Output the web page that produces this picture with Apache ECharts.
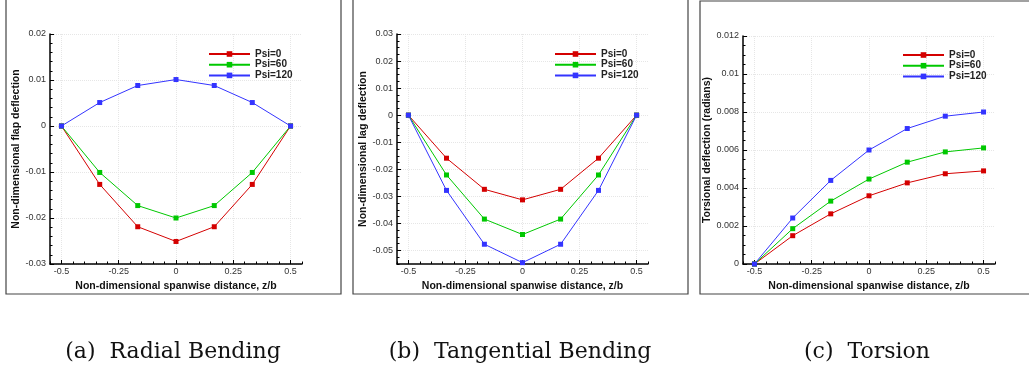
<!DOCTYPE html>
<html><head><meta charset="utf-8">
<script src="https://cdn.jsdelivr.net/npm/echarts@6/dist/echarts.min.js"></script>
<style>html,body{margin:0;padding:0;background:#fff}#c{width:1029px;height:373px}</style>
</head><body><div id="c"></div>
<script>
// ---- data ----
const spanX = [-0.5, -0.333, -0.167, 0, 0.167, 0.333, 0.5];
const seriesNames = ['Psi=0', 'Psi=60', 'Psi=120'];
const flapPsi0   = [0, -0.0127, -0.0219, -0.0251, -0.0219, -0.0127, 0];
const flapPsi60  = [0, -0.0101, -0.0173, -0.0200, -0.0173, -0.0101, 0];
const flapPsi120 = [0, 0.0051, 0.0088, 0.0101, 0.0088, 0.0051, 0];
const lagPsi0    = [0, -0.0159, -0.0274, -0.0313, -0.0274, -0.0159, 0];
const lagPsi60   = [0, -0.0221, -0.0384, -0.0441, -0.0384, -0.0221, 0];
const lagPsi120  = [0, -0.0278, -0.0477, -0.0545, -0.0477, -0.0278, 0];
const torPsi0    = [0, 0.00149, 0.00264, 0.00359, 0.00427, 0.00475, 0.0049];
const torPsi60   = [0, 0.00186, 0.00331, 0.00447, 0.00536, 0.0059, 0.00611];
const torPsi120  = [0, 0.00242, 0.0044, 0.0060, 0.00713, 0.00778, 0.0080];
const xTicks    = [-0.5, -0.25, 0, 0.25, 0.5];
const flapTicks = [-0.03, -0.02, -0.01, 0, 0.01, 0.02];
const lagTicks  = [-0.05, -0.04, -0.03, -0.02, -0.01, 0, 0.01, 0.02, 0.03];
const torTicks  = [0, 0.002, 0.004, 0.006, 0.008, 0.01, 0.012];
const captions = ['(a)  Radial Bending', '(b)  Tangential Bending', '(c)  Torsion'];
const yNames = ['Non-dimensional flap deflection', 'Non-dimensional lag deflection', 'Torsional deflection (radians)'];
const xName = 'Non-dimensional spanwise distance, z/b';

// ---- layout ----
const colors = ['#d40000', '#00c800', '#3434ff'];
function minorTicks(min, max, step) {
  const out = [];
  for (let i = Math.ceil(min / step - 1e-9); i <= Math.floor(max / step + 1e-9); i++) out.push(+(i * step).toFixed(6));
  return out;
}
const panels = [
  { grid: { left: 50, top: 34, width: 252, height: 230 }, ymin: -0.03, ymax: 0.02, ticks: flapTicks, minor: 0.002,
    data: [flapPsi0, flapPsi60, flapPsi120], legend: { left: 203, top: 44 }, nameGap: 24, caption: 173 },
  { grid: { left: 397, top: 34, width: 251, height: 230 }, ymin: -0.055, ymax: 0.03, ticks: lagTicks, minor: 0.0025,
    data: [lagPsi0, lagPsi60, lagPsi120], legend: { left: 549, top: 44 }, nameGap: 25, caption: 520 },
  { grid: { left: 743, top: 36, width: 252, height: 228 }, ymin: 0, ymax: 0.012, ticks: torTicks, minor: 0.0005,
    data: [torPsi0, torPsi60, torPsi120], legend: { left: 897, top: 45 }, nameGap: 24, caption: 867 }
];
const FONT = 'Liberation Sans, Arial, sans-serif';
const option = { animation: false, grid: [], xAxis: [], yAxis: [], series: [], legend: [], graphic: [] };
panels.forEach((p, g) => {
  option.grid.push(Object.assign({ containLabel: false }, p.grid));
  const xi = option.xAxis.length, yi = option.yAxis.length;
  option.xAxis.push({
    type: 'value', gridIndex: g, min: -0.55, max: 0.55, position: 'bottom',
    axisLine: { onZero: false, lineStyle: { color: '#000', width: 1.5 } },
    axisTick: { inside: true, length: 4, customValues: xTicks, lineStyle: { color: '#000' } },
    axisLabel: { customValues: xTicks, fontSize: 9, margin: 3, color: '#333', fontFamily: FONT, formatter: v => String(v) },
    splitLine: { show: true, lineStyle: { type: 'dotted', color: '#e6e6e6' } },
    name: xName, nameLocation: 'middle', nameGap: 11,
    nameTextStyle: { fontWeight: 'bold', fontSize: 10.5, color: '#111', fontFamily: FONT }
  }, {
    type: 'value', gridIndex: g, min: -0.55, max: 0.55, position: 'bottom',
    axisLine: { show: false, onZero: false },
    axisTick: { inside: true, length: 2.5, customValues: minorTicks(-0.55, 0.55, 0.05), lineStyle: { color: '#000' } },
    axisLabel: { show: false }, splitLine: { show: false }
  });
  option.yAxis.push({
    type: 'value', gridIndex: g, min: p.ymin, max: p.ymax, position: 'left',
    axisLine: { show: true, onZero: false, lineStyle: { color: '#000', width: 1.5 } },
    axisTick: { show: true, inside: true, length: 4, customValues: p.ticks, lineStyle: { color: '#000' } },
    axisLabel: { customValues: p.ticks, fontSize: 9, margin: 4, color: '#333', fontFamily: FONT, formatter: v => String(v) },
    splitLine: { show: true, lineStyle: { type: 'dotted', color: '#e6e6e6' } },
    name: yNames[g], nameLocation: 'middle', nameGap: p.nameGap,
    nameTextStyle: { fontWeight: 'bold', fontSize: 10.5, color: '#111', fontFamily: FONT }
  }, {
    type: 'value', gridIndex: g, min: p.ymin, max: p.ymax, position: 'left',
    axisLine: { show: false, onZero: false },
    axisTick: { show: true, inside: true, length: 2.5, customValues: minorTicks(p.ymin, p.ymax, p.minor), lineStyle: { color: '#000' } },
    axisLabel: { show: false }, splitLine: { show: false }
  });
  p.data.forEach((arr, k) => {
    option.series.push({
      type: 'line', name: seriesNames[k], xAxisIndex: xi, yAxisIndex: yi,
      data: spanX.map((x, i) => [x, arr[i]]),
      symbol: 'rect', symbolSize: 5, clip: false,
      lineStyle: { width: 1, color: colors[k] }, itemStyle: { color: colors[k] },
      emphasis: { disabled: true }
    });
  });
  option.legend.push({
    left: p.legend.left, top: p.legend.top, orient: 'vertical', data: seriesNames, selectedMode: false,
    itemWidth: 41, itemHeight: 7, itemGap: 0.7,
    textStyle: { fontWeight: 'bold', fontSize: 10, lineHeight: 10, color: '#222', fontFamily: FONT }
  });
  option.graphic.push({
    type: 'text', x: p.caption, y: 352, silent: true,
    style: { text: captions[g], font: '22px "DejaVu Serif"', fill: '#111', textAlign: 'center', textVerticalAlign: 'middle', verticalAlign: 'middle' }
  });
});
option.graphic.push(
  { type: 'rect', silent: true, shape: { x: 6, y: -3, width: 335, height: 297 }, style: { fill: 'none', stroke: '#444', lineWidth: 1.2 } },
  { type: 'rect', silent: true, shape: { x: 353, y: -3, width: 335, height: 297 }, style: { fill: 'none', stroke: '#444', lineWidth: 1.2 } },
  { type: 'rect', silent: true, shape: { x: 700, y: 1, width: 340, height: 293 }, style: { fill: 'none', stroke: '#444', lineWidth: 1.2 } }
);
const chart = echarts.init(document.getElementById('c'), null, { renderer: 'canvas' });
chart.setOption(option);
</script></body></html>
